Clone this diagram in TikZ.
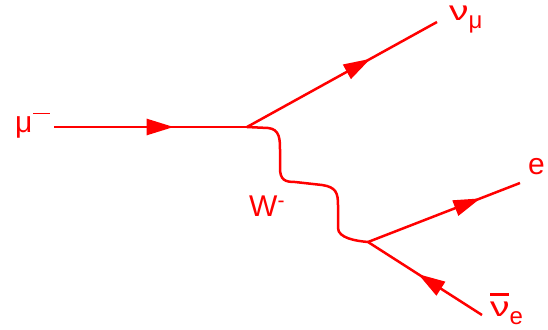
\documentclass[tikz,border=0pt]{standalone}
\usepackage{fontspec}
\setmainfont{Liberation Sans}
\usepackage{graphicx}
\usetikzlibrary{decorations.markings,arrows.meta}
\newcommand{\wideNu}{\scalebox{1.3}[0.92]{ν}}
\newcommand{\subtxt}[1]{\raisebox{-8pt}{\fontsize{24}{24}\selectfont #1}}
\begin{document}
\begin{tikzpicture}[x=1pt,y=-1pt]
\tikzset{
  fermion/.style={draw=red, line width=2.5pt, postaction={decorate},
    decoration={markings, mark=at position #1 with {\arrow{Triangle[length=27pt,width=16pt]}}}},
  boson/.style={draw=red, line width=2.5pt},
  lab/.style={text=red, font=\fontsize{30}{30}\selectfont, inner sep=0pt}
}
\useasboundingbox (0,0) rectangle (548,329);
\coordinate (mustart) at (54,127);
\coordinate (v1) at (247,127);
\coordinate (numuend) at (437,22);
\coordinate (v2) at (368,242);
\coordinate (eend) at (520,183);
\coordinate (nueend) at (482,315);
\draw[fermion=0.62] (mustart) -- (v1);
\draw[fermion=0.65] (v1) -- (numuend);
\draw[fermion=0.74] (v2) -- (eend);
\draw[fermion=0.56] (nueend) -- (v2);
\draw[boson] (v1) -- (268,128) .. controls +(12,1) and +(0,-10) .. (280,150) -- (280,168)
  .. controls +(0,12) and +(-10,0) .. (295,182) -- (322,185)
  .. controls +(14,2) and +(0,-12) .. (338,205) -- (338,228)
  .. controls +(0,10) and +(-12,-1) .. (v2);
\node[lab, anchor=base west] (lmu) at (15,132) {μ\hspace{1pt}\raisebox{18pt}{\rule{17pt}{1.2pt}}};
\node[lab, anchor=base west] (lnumu) at (449,21) {\wideNu\subtxt{μ}};
\node[lab, anchor=west] (lw) at (249,206) {W\textsuperscript{-}};
\node[lab] (le) at (536.5,166.5) {e};
\node[lab, anchor=base west] (lnue) at (490,316) {\makebox[0pt][l]{\raisebox{20pt}{\rule{19pt}{3pt}}}\wideNu\subtxt{e}};
\end{tikzpicture}
\end{document}
